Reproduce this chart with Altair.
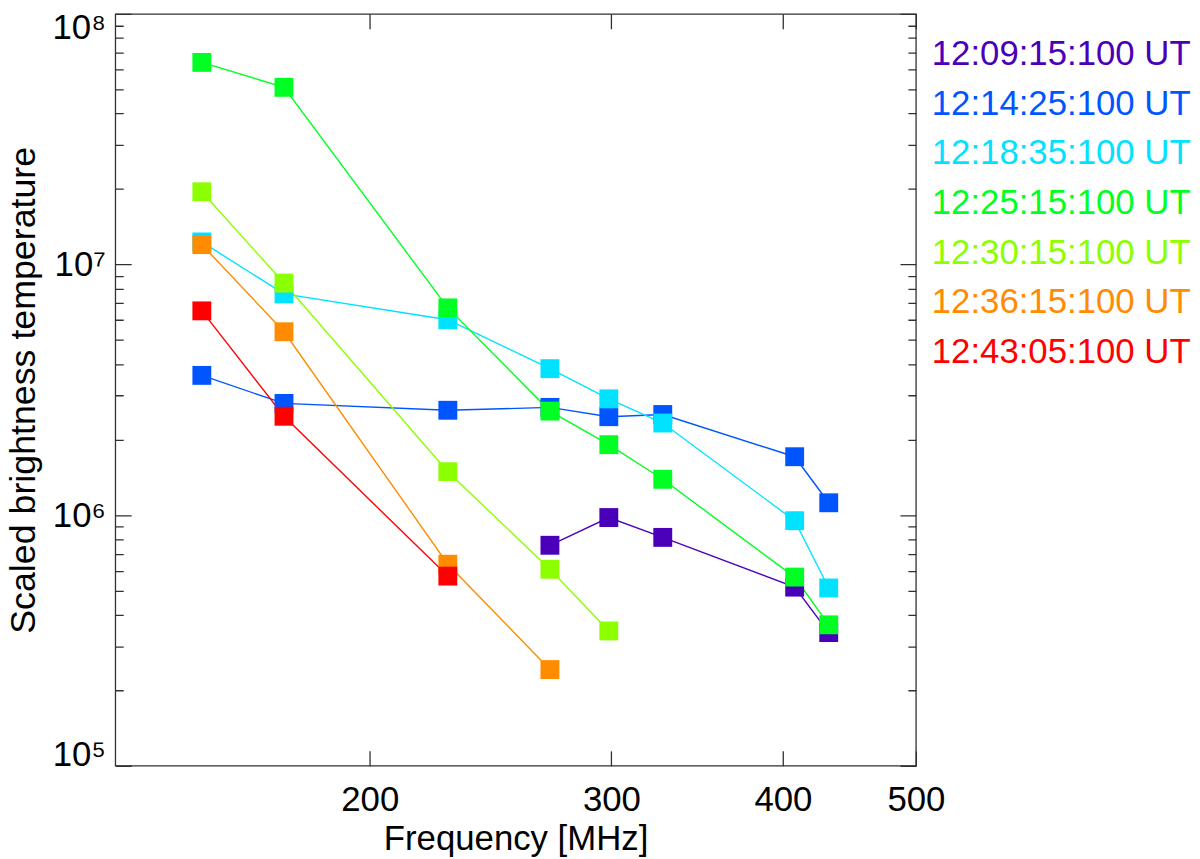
import altair as alt
import pandas as pd

FONT = "Liberation Sans"

# observing frequencies (MHz)
freqs = [150.9, 173.2, 228.0, 270.6, 298.7, 327.0, 408.0, 432.0]

times = [
    "12:09:15:100 UT",
    "12:14:25:100 UT",
    "12:18:35:100 UT",
    "12:25:15:100 UT",
    "12:30:15:100 UT",
    "12:36:15:100 UT",
    "12:43:05:100 UT",
]
colors = ["#4a00b8", "#0055ff", "#00e2ff", "#00ff22", "#8cff00", "#ff8c00", "#ff0000"]

# scaled brightness temperature per time (None = no point)
tb_1209 = [None, None, None, 7.58e5, 9.78e5, 8.15e5, 5.16e5, 3.40e5]
tb_1214 = [3.61e6, 2.79e6, 2.62e6, 2.69e6, 2.47e6, 2.52e6, 1.71e6, 1.12e6]
tb_1218 = [1.23e7, 7.63e6, 6.02e6, 3.84e6, 2.91e6, 2.33e6, 9.50e5, 5.12e5]
tb_1225 = [6.40e7, 5.09e7, 6.71e6, 2.60e6, 1.91e6, 1.39e6, 5.66e5, 3.65e5]
tb_1230 = [1.95e7, 8.43e6, 1.49e6, 6.08e5, 3.45e5, None, None, None]
tb_1236 = [1.20e7, 5.39e6, 6.37e5, 2.42e5, None, None, None, None]
tb_1243 = [6.53e6, 2.48e6, 5.71e5, None, None, None, None, None]

series = [tb_1209, tb_1214, tb_1218, tb_1225, tb_1230, tb_1236, tb_1243]

y_ticks = [m * 10 ** e for e in range(5, 8) for m in range(1, 10)] + [1e8]
x_ticks = [200, 300, 400, 500]

rows = []
for i, (t, vals) in enumerate(zip(times, series)):
    for f, v in zip(freqs, vals):
        if v is not None:
            rows.append({"freq": f, "tb": v, "time": t, "order": i})
df = pd.DataFrame(rows)

xscale = alt.Scale(type="log", domain=[130.5, 500], nice=False)
yscale = alt.Scale(type="log", domain=[1e5, 1e8], nice=False)
cscale = alt.Scale(domain=times, range=colors)

minor = "abs(log(datum.value)/LN10 - round(log(datum.value)/LN10)) > 0.001"
dash = {"condition": {"test": minor, "value": [0, 8, 8, 0]}, "value": [1, 0]}

y_left = alt.Axis(
    orient="left", values=y_ticks, offset=-16, tickSize=16, tickDash=dash,
    tickColor="#303030", tickWidth=1.3, domain=False, grid=False,
    labelExpr=minor + " ? '' : '10' + ['⁰','¹','²','³','⁴','⁵','⁶','⁷','⁸','⁹'][round(log(datum.value)/LN10)]",
    labelFont=FONT, labelFontSize=35, labelColor="black", labelPadding=10,
    labelOverlap=False, labelFlush=False,
    labelBaseline={"condition": [{"test": "datum.value < 1.5e5", "value": "alphabetic"},
                                 {"test": "datum.value > 5e7", "value": "top"}],
                   "value": "middle"},
    labelOffset={"condition": {"test": "datum.value > 5e7", "value": -3}, "value": 0},
    title="Scaled brightness temperature", titleFont=FONT, titleFontSize=36,
    titleFontWeight="normal", titleColor="black", titlePadding=10,
)
y_right = alt.Axis(
    orient="right", values=y_ticks, offset=-16, tickSize=16, tickDash=dash,
    tickColor="#303030", tickWidth=1.3, domain=False, grid=False,
    labels=False, title=None,
)
x_bottom = alt.Axis(
    orient="bottom", values=x_ticks, offset=-15, tickSize=15,
    tickColor="#303030", tickWidth=1.3, domain=False, grid=False, format="d",
    labelFont=FONT, labelFontSize=35, labelColor="black", labelPadding=17,
    labelOverlap=False, labelFlush=False,
    title="Frequency [MHz]", titleFont=FONT, titleFontSize=35,
    titleFontWeight="normal", titleColor="black", titlePadding=4,
)
x_top = alt.Axis(
    orient="top", values=x_ticks, offset=-15, tickSize=15,
    tickColor="#303030", tickWidth=1.3, domain=False, grid=False,
    labels=False, title=None,
)

legend = alt.Legend(
    orient="none", legendX=787, legendY=23, title=None,
    symbolSize=0, symbolOpacity=0, symbolStrokeWidth=0, labelOffset=0,
    labelFont=FONT, labelFontSize=35, labelLimit=400, rowPadding=14,
    labelColor=alt.ExprRef("scale('color', datum.value)"),
)

lines = alt.Chart(df).mark_line(strokeWidth=1.4).encode(
    x=alt.X("freq:Q", scale=xscale, axis=x_bottom),
    y=alt.Y("tb:Q", scale=yscale, axis=y_left),
    color=alt.Color("time:N", scale=cscale, legend=legend),
    detail="time:N",
)

points = alt.Chart(df).mark_square(size=361, filled=True, opacity=1).encode(
    x=alt.X("freq:Q", scale=xscale, axis=x_top),
    y=alt.Y("tb:Q", scale=yscale, axis=y_right),
    color=alt.Color("time:N", scale=cscale, legend=legend),
    order=alt.Order("order:Q"),
)

chart = alt.layer(lines, points).resolve_axis(
    x="independent", y="independent"
).properties(
    width=806,
    height=757,
    autosize=alt.AutoSizeParams(type="none"),
    padding={"left": 108, "top": 3, "right": 278, "bottom": 91},
).configure_view(
    stroke="#303030", strokeWidth=1.3
)

chart.save("out.html", embed_options={"renderer": "svg", "actions": False})
